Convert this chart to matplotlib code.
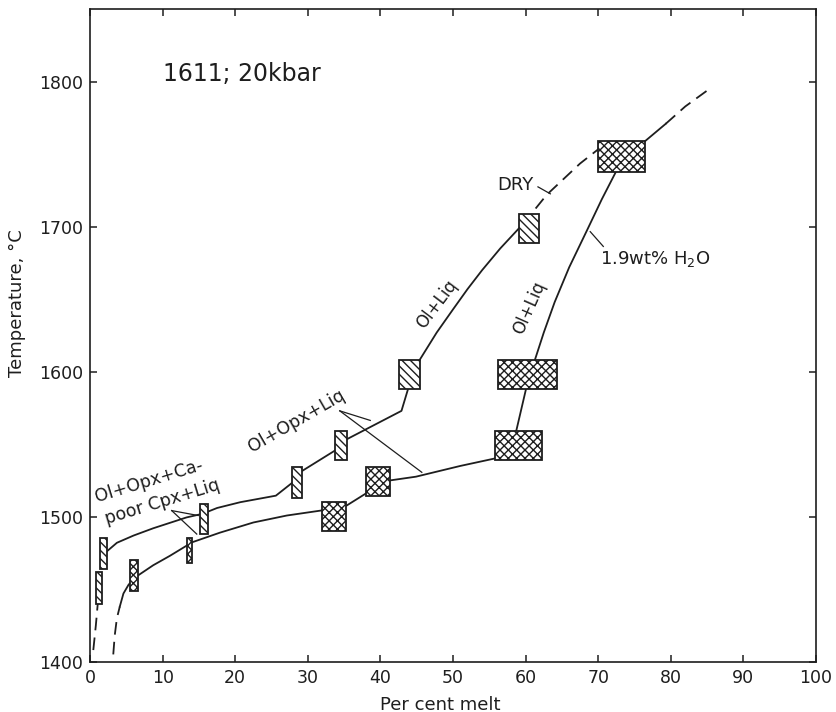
import matplotlib.pyplot as plt
from matplotlib.patches import Rectangle

plt.rcParams['font.family'] = ['DejaVu Sans']
plt.rcParams['hatch.linewidth'] = 1.0

# experiment boxes, dry run (per cent melt range, temperature range)
dry_xlo = [0.8, 1.4, 15.1, 27.8, 33.7, 42.6, 59.1]
dry_xhi = [1.6, 2.3, 16.2, 29.2, 35.4, 45.5, 61.9]
dry_tlo = [1440, 1464, 1488, 1513, 1539, 1588, 1689]
dry_thi = [1462, 1485, 1509, 1534, 1559, 1608, 1709]

# experiment boxes, 1.9 wt% H2O
wet_xlo = [5.5, 13.3, 31.9, 38.0, 55.8, 56.2, 70.0]
wet_xhi = [6.6, 14.1, 35.3, 41.3, 62.2, 64.3, 76.4]
wet_tlo = [1449, 1468, 1490, 1514, 1539, 1588, 1738]
wet_thi = [1470, 1485, 1510, 1534, 1559, 1608, 1759]

# dry melting curve
dry_dash_x = [0.45, 0.8, 1.15]
dry_dash_t = [1408, 1425, 1445]
dry_x = [1.9, 2.3, 3.7, 6.0, 8.7, 13.3, 15.5, 17.5, 20.7, 25.6, 28.0, 29.2,
         33.7, 35.4, 42.9, 43.8, 44.5, 45.45, 47.75, 50.0, 52.0, 54.0, 56.5, 59.1, 60.5]
dry_t = [1475, 1476, 1482, 1487, 1492, 1499.5, 1502, 1506, 1510, 1514.5, 1524, 1531.5,
         1545.5, 1553.5, 1573, 1588, 1598, 1608.5, 1627, 1643, 1657, 1670, 1685, 1699, 1700]
top_dash_x = [60.5, 60.8, 62.9, 67.5, 70.15, 72.0]
top_dash_t = [1700, 1709, 1722, 1743.6, 1754, 1755]

# wet melting curve
wet_dash_x = [3.2, 3.4, 3.7, 4.1]
wet_dash_t = [1405, 1418, 1430, 1438]
wet_x = [4.1, 4.6, 5.3, 6.0, 6.65, 8.7, 11.0, 13.3, 14.15, 17.9, 22.5, 27.1, 31.9,
         35.35, 37.9, 41.3, 44.9, 51.0, 55.8, 58.7, 60.05, 61.3, 62.5, 64.0, 66.0,
         68.5, 70.5, 72.45, 73.5]
wet_t = [1438, 1447, 1453, 1457, 1459.6, 1466.5, 1473, 1480, 1482.5, 1489, 1496, 1500.8, 1504.3,
         1507.7, 1515.7, 1525, 1527.6, 1535, 1540.2, 1559, 1588, 1608.5, 1627, 1648, 1672,
         1698, 1719, 1738, 1750]
top_x = [73.5, 76.35, 79.3]
top_t = [1750, 1758.6, 1771]
top_end_x = [79.3, 82.0, 85.3]
top_end_t = [1771, 1783, 1795]

ink = '#1e1e1e'

fig = plt.figure(figsize=(8.36, 7.12), dpi=100)
ax = fig.add_axes([0.1077, 0.0707, 0.8684, 0.9163])

lw = 1.3
dash = (0, (7, 4))
ax.plot(dry_dash_x, dry_dash_t, color=ink, lw=lw, ls=dash)
ax.plot(dry_x, dry_t, color=ink, lw=lw)
ax.plot(top_dash_x, top_dash_t, color=ink, lw=lw, ls=dash)
ax.plot(wet_dash_x, wet_dash_t, color=ink, lw=lw, ls=dash)
ax.plot(wet_x, wet_t, color=ink, lw=lw)
ax.plot(top_x, top_t, color=ink, lw=lw)
ax.plot(top_end_x, top_end_t, color=ink, lw=lw, ls=dash)

# boxes on top of the lines
for i in range(len(dry_xlo)):
    ax.add_patch(Rectangle((dry_xlo[i], dry_tlo[i]), dry_xhi[i] - dry_xlo[i],
                           dry_thi[i] - dry_tlo[i], facecolor='white',
                           edgecolor=ink, hatch='\\\\\\\\', lw=1.3, zorder=3))
for i in range(len(wet_xlo)):
    ax.add_patch(Rectangle((wet_xlo[i], wet_tlo[i]), wet_xhi[i] - wet_xlo[i],
                           wet_thi[i] - wet_tlo[i], facecolor='white',
                           edgecolor=ink, hatch='xxxx', lw=1.3, zorder=3))

# leader lines
ax.plot([11.25, 14.9], [1504.2, 1500.8], color=ink, lw=0.9)
ax.plot([11.25, 14.7], [1504.2, 1488], color=ink, lw=0.9)
ax.plot([34.4, 38.6], [1573, 1566.4], color=ink, lw=0.9)
ax.plot([34.4, 45.7], [1573, 1530.6], color=ink, lw=0.9)
ax.plot([61.7, 63.4], [1727.5, 1722.7], color=ink, lw=0.9)
ax.plot([68.9, 70.7], [1696.6, 1686.4], color=ink, lw=0.9)

# labels
ax.text(10.05, 1805, '1611; 20kbar', fontsize=17, color=ink, ha='left', va='center')
ax.text(0.92, 1510, 'Ol+Opx+Ca-', fontsize=12.5, color=ink, rotation=17,
        rotation_mode='anchor', ha='left', va='baseline')
ax.text(2.3, 1495, 'poor Cpx+Liq', fontsize=12.5, color=ink, rotation=17,
        rotation_mode='anchor', ha='left', va='baseline')
ax.text(22.3, 1544.3, 'Ol+Opx+Liq', fontsize=12.5, color=ink, rotation=30,
        rotation_mode='anchor', ha='left', va='baseline')
ax.text(47.8, 1646.6, 'Ol+Liq', fontsize=12, color=ink, rotation=53,
        rotation_mode='anchor', ha='center', va='center')
ax.text(60.5, 1643.8, 'Ol+Liq', fontsize=12, color=ink, rotation=66,
        rotation_mode='anchor', ha='center', va='center')
ax.text(56.1, 1729, 'DRY', fontsize=13, color=ink, ha='left', va='center')
ax.text(70.2, 1678, '1.9wt% H$_2$O', fontsize=13, color=ink, ha='left', va='center')

ax.set_xlim(0, 100)
ax.set_ylim(1400, 1850)
ax.set_xticks(range(0, 101, 10))
ax.set_yticks(range(1400, 1801, 100))
ax.tick_params(direction='in', top=True, right=True, length=5, width=1.1,
               labelsize=12.5, colors=ink, pad=5)
for s in ax.spines.values():
    s.set_linewidth(1.2)
    s.set_color(ink)

ax.set_xlabel('Per cent melt', fontsize=13, color=ink)
ax.set_ylabel('Temperature, °C', fontsize=13, color=ink)
ax.xaxis.set_label_coords(0.483, -0.052)
ax.yaxis.set_label_coords(-0.088, 0.55)

fig.savefig('out.png', dpi=100)
